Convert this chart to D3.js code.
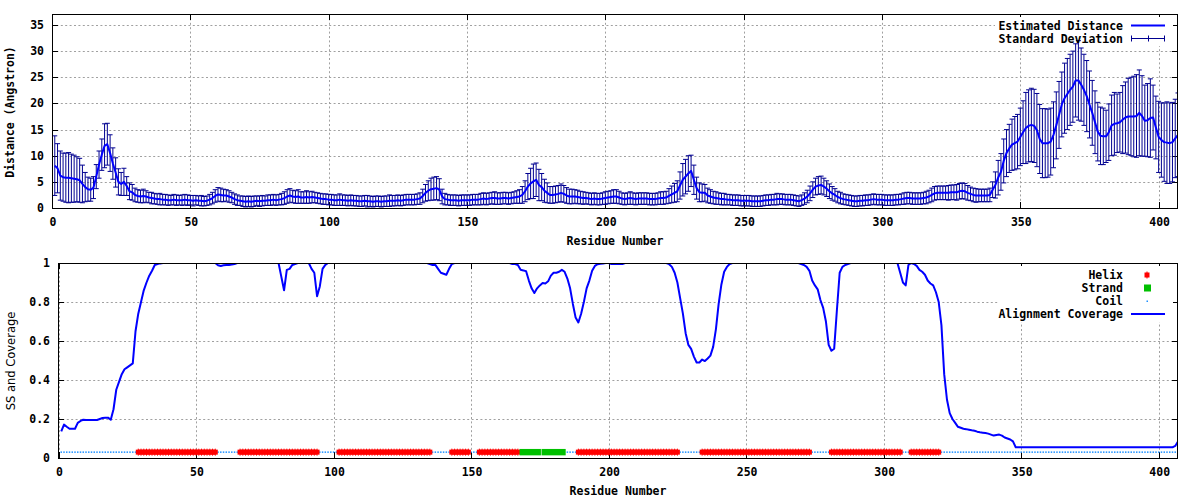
<!DOCTYPE html>
<html><head><meta charset="utf-8">
<script src="https://cdn.jsdelivr.net/npm/d3@7"></script>
<style>
body{margin:0;background:#fff}
svg text{font-family:"DejaVu Sans Mono",monospace;font-weight:bold;font-size:11.5px;fill:#000}
svg text.plain{font-family:"DejaVu Sans",sans-serif;font-weight:normal;font-size:11.5px}
</style>
</head><body>
<svg id="chart" width="1200" height="500"></svg>
<script>
// ---- data (residues 1..407) ----
const meanDistance = [
8.1,7.6,6.2,5.9,5.8,5.8,5.7,5.6,5.5,5.3,
4.6,4.0,3.6,3.5,3.9,6.0,8.3,10.2,11.9,12.2,
10.5,8.5,6.8,5.0,4.6,5.0,4.2,3.2,3.0,2.5,
2.3,2.2,2.3,2.2,2.0,1.9,1.8,1.7,1.7,1.6,
1.6,1.5,1.5,1.6,1.5,1.5,1.5,1.6,1.5,1.5,
1.4,1.5,1.4,1.4,1.3,1.4,1.6,1.9,2.3,2.6,
2.5,2.4,2.4,2.2,2.0,1.7,1.5,1.4,1.3,1.2,
1.3,1.2,1.3,1.4,1.3,1.4,1.4,1.5,1.5,1.6,
1.5,1.6,1.7,1.9,2.2,2.4,2.2,2.1,2.2,2.0,
2.0,2.1,2.0,2.1,2.0,1.9,1.8,1.7,1.7,1.6,
1.6,1.5,1.5,1.6,1.5,1.5,1.4,1.5,1.4,1.4,
1.3,1.3,1.4,1.3,1.3,1.2,1.3,1.3,1.2,1.3,
1.3,1.4,1.4,1.4,1.5,1.4,1.5,1.6,1.6,1.6,
1.6,1.7,1.8,2.3,2.9,3.3,3.6,3.7,3.8,3.5,
2.2,1.7,1.6,1.5,1.5,1.5,1.4,1.5,1.5,1.5,
1.5,1.6,1.6,1.6,1.7,1.8,1.7,1.8,1.9,1.9,
1.8,1.8,1.9,1.9,1.8,1.9,2.0,2.1,2.2,2.5,
3.2,4.1,4.7,5.1,5.4,4.4,4.0,3.3,2.9,2.5,
2.5,2.6,2.7,2.9,2.7,2.4,2.2,2.2,2.2,2.1,
2.0,1.9,1.9,1.8,1.7,1.8,1.7,1.7,1.8,1.9,
2.0,2.1,2.2,2.2,2.0,1.8,1.7,1.8,1.9,1.8,
1.7,1.8,1.8,1.8,1.8,1.7,1.7,1.7,1.8,1.9,
1.9,2.0,2.3,2.6,2.9,3.2,4.3,5.4,6.0,6.6,
7.1,5.4,3.8,3.0,2.9,2.9,2.4,2.2,2.0,1.9,
1.8,1.7,1.7,1.6,1.6,1.5,1.5,1.5,1.4,1.4,
1.4,1.4,1.3,1.3,1.3,1.3,1.4,1.5,1.5,1.6,
1.6,1.7,1.7,1.7,1.6,1.6,1.6,1.5,1.4,1.3,
1.5,1.8,2.2,2.8,3.5,4.1,4.3,4.4,4.1,3.7,
3.2,2.8,2.5,2.1,1.9,1.7,1.6,1.5,1.4,1.3,
1.3,1.4,1.4,1.5,1.5,1.6,1.7,1.6,1.6,1.6,
1.5,1.5,1.5,1.5,1.6,1.6,1.7,1.8,1.9,1.9,
1.8,1.8,1.8,1.8,1.9,2.0,2.2,2.5,2.8,2.9,
2.9,2.9,2.9,2.9,3.0,3.0,3.0,3.2,3.3,3.2,
2.9,2.7,2.5,2.4,2.4,2.4,2.4,2.4,2.5,3.5,
4.4,5.8,6.9,9.0,10.5,11.4,12.1,12.4,12.7,13.6,
14.5,15.3,15.7,15.9,15.7,14.9,13.2,12.4,12.4,12.4,
12.7,14.0,15.8,17.8,19.8,21.0,21.8,22.6,23.2,24.4,
24.4,23.6,22.6,21.4,19.8,18.2,16.4,14.6,13.8,13.7,
13.7,14.5,15.8,16.1,16.2,16.4,16.9,17.3,17.5,17.5,
17.5,17.6,18.2,17.6,16.7,16.8,17.2,17.3,15.4,13.6,
13.0,12.6,12.5,12.4,12.6,13.3,14.0];

const stdDeviation = [
5.7,4.7,4.7,4.6,4.7,4.8,4.6,4.5,4.3,4.2,
3.6,2.8,2.3,2.2,2.1,2.3,2.6,3.0,4.2,4.0,
3.5,3.0,2.8,2.5,2.2,2.6,1.8,1.6,1.5,1.3,
1.2,1.2,1.3,1.1,1.0,1.1,1.0,1.0,1.1,1.0,
1.0,1.0,0.9,1.0,1.0,0.9,1.0,1.0,1.0,0.9,
1.0,0.9,0.9,1.0,0.9,0.9,1.0,1.1,1.2,1.3,
1.3,1.2,1.1,1.1,1.0,1.0,1.0,0.9,1.0,1.0,
1.0,1.0,1.0,0.9,1.0,1.0,0.9,1.0,1.0,1.0,
1.0,1.0,1.1,1.2,1.3,1.3,1.2,1.2,1.3,1.1,
1.1,1.2,1.1,1.1,1.0,1.0,1.0,1.0,1.0,1.0,
1.0,1.0,1.0,1.1,1.0,1.0,1.0,1.0,1.0,1.0,
1.0,1.0,1.0,1.1,1.0,1.0,1.0,1.0,1.0,1.0,
1.0,1.1,1.0,1.0,1.0,1.0,1.0,1.0,1.0,1.0,
1.0,1.0,1.1,1.3,1.6,1.9,2.1,2.2,2.2,2.1,
1.4,1.1,1.0,1.0,1.0,1.0,1.0,1.0,1.0,1.0,
1.0,1.0,1.0,1.0,1.1,1.1,1.1,1.1,1.1,1.2,
1.1,1.1,1.1,1.1,1.1,1.1,1.1,1.2,1.3,1.6,
2.0,2.5,2.9,3.3,3.2,3.0,2.6,2.2,1.9,1.6,
1.6,1.6,1.6,1.7,1.6,1.5,1.4,1.4,1.3,1.3,
1.2,1.2,1.1,1.1,1.1,1.1,1.1,1.1,1.1,1.2,
1.2,1.2,1.3,1.3,1.2,1.1,1.1,1.1,1.2,1.1,
1.1,1.1,1.1,1.1,1.1,1.1,1.1,1.1,1.1,1.2,
1.2,1.2,1.4,1.6,1.8,2.0,2.6,3.1,3.3,3.4,
3.0,2.8,2.1,1.8,1.7,1.6,1.4,1.3,1.2,1.2,
1.1,1.1,1.1,1.0,1.0,1.0,1.0,1.0,1.0,1.0,
1.0,1.0,1.0,1.0,1.0,1.0,1.0,1.0,1.0,1.0,
1.0,1.1,1.0,1.0,1.0,1.0,1.0,1.0,1.0,1.0,
1.0,1.1,1.2,1.4,1.5,1.6,1.7,1.7,1.6,1.5,
1.4,1.3,1.2,1.1,1.1,1.0,1.0,1.0,1.0,1.0,
1.0,1.0,1.0,1.0,1.0,1.0,1.0,1.0,1.0,1.0,
1.0,1.0,1.0,1.0,1.0,1.0,1.0,1.1,1.1,1.1,
1.1,1.1,1.1,1.1,1.1,1.2,1.2,1.3,1.3,1.3,
1.3,1.3,1.3,1.4,1.4,1.4,1.5,1.5,1.5,1.5,
1.4,1.3,1.3,1.3,1.2,1.2,1.2,1.2,1.3,1.5,
2.5,3.3,3.5,4.2,4.5,4.6,4.9,5.1,5.2,5.5,
6.0,6.8,6.9,7.0,7.0,7.0,6.6,6.6,6.6,6.5,
6.4,6.3,6.4,6.4,6.2,6.7,6.8,6.8,6.8,7.0,
7.6,7.0,6.8,6.8,6.4,6.2,6.0,5.6,5.5,5.4,
5.0,5.4,5.8,6.0,5.6,5.7,6.5,6.8,7.3,7.5,
7.7,7.9,8.2,7.7,6.8,7.0,7.5,6.2,6.0,6.8,
7.1,7.5,7.8,7.7,7.6,7.5,8.0];

const alignmentCoverage = [
0.136,0.171,0.16,0.15,0.15,0.15,0.18,0.19,0.196,0.195,
0.195,0.195,0.195,0.195,0.2,0.205,0.207,0.207,0.196,0.25,
0.35,0.39,0.43,0.455,0.465,0.475,0.485,0.65,0.74,0.8,
0.86,0.9,0.935,0.96,0.99,0.995,0.998,1,1,1,
1,1,1,1,1,1,1,1,1,1,
1,1,1,1,1,1,1,0.988,0.985,0.988,
0.99,0.99,0.992,0.995,1,1,1,1,1,1,
1,1,1,1,1,1,1,1,1,1,
0.93,0.86,0.965,0.97,0.99,0.995,1,1,1,1,
1,0.97,0.95,0.83,0.88,0.97,0.99,1,1,1,
1,1,1,1,1,1,1,1,1,1,
1,1,1,1,1,1,1,1,1,1,
1,1,1,1,1,1,1,1,1,1,
1,1,1,1,0.995,0.99,0.99,0.97,0.95,0.945,
0.94,0.97,0.995,1,1,1,1,1,1,1,
1,1,1,1,1,1,1,1,1,1,
1,1,1,1,0.995,0.995,0.99,0.965,0.962,0.958,
0.91,0.87,0.846,0.87,0.885,0.897,0.895,0.906,0.935,0.95,
0.95,0.955,0.965,0.955,0.92,0.87,0.79,0.72,0.695,0.74,
0.8,0.87,0.91,0.96,0.985,0.994,0.996,0.998,1,1,
0.995,0.995,0.995,0.995,0.995,1,1,1,1,1,
1,1,1,1,1,1,1,1,1,1,
1,0.994,0.98,0.95,0.9,0.82,0.74,0.64,0.58,0.56,
0.52,0.49,0.49,0.505,0.497,0.51,0.525,0.57,0.66,0.79,
0.89,0.955,0.98,0.995,1,1,1,1,1,1,
1,1,1,1,1,1,1,1,1,1,
1,1,1,1,1,1,1,1,1,0.995,
0.99,0.98,0.96,0.91,0.885,0.865,0.81,0.77,0.7,0.58,
0.55,0.56,0.76,0.95,0.98,0.99,0.995,1,1,1,
1,1,1,1,1,1,1,1,1,1,
1,1,1,1,1,0.95,0.9,0.885,0.99,1,
0.995,0.985,0.965,0.955,0.94,0.91,0.895,0.885,0.85,0.8,
0.68,0.43,0.3,0.23,0.2,0.18,0.16,0.155,0.15,0.148,
0.145,0.142,0.14,0.135,0.132,0.13,0.128,0.125,0.12,0.115,
0.118,0.12,0.115,0.105,0.1,0.095,0.085,0.055,0.055,0.055,
0.055,0.055,0.055,0.055,0.055,0.055,0.055,0.055,0.055,0.055,
0.055,0.055,0.055,0.055,0.055,0.055,0.055,0.055,0.055,0.055,
0.055,0.055,0.055,0.055,0.055,0.055,0.055,0.055,0.055,0.055,
0.055,0.055,0.055,0.055,0.055,0.055,0.055,0.055,0.055,0.055,
0.055,0.055,0.055,0.055,0.055,0.055,0.055,0.055,0.055,0.055,
0.055,0.055,0.055,0.055,0.055,0.062,0.085];

const helixSegments  = [[29,57],[66,94],[102,135],[143,149],[153,167],[189,225],[234,273],[281,306],[310,320]];
const strandSegments = [[168,175],[176,184]];
const ssLevel = 0.03;

const xTickValues = [0,50,100,150,200,250,300,350,400];
const distTickValues = [0,5,10,15,20,25,30,35];
const covTickValues = [0,0.2,0.4,0.6,0.8,1];
const covTickLabels = ["0","0.2","0.4","0.6","0.8","1"];

const topLegend = ["Estimated Distance","Standard Deviation"];
const bottomLegend = ["Helix","Strand","Coil","Alignment Coverage"];

// ---- derived records ----
const residues = meanDistance.map((d,i)=>i+1);
const distRows = residues.map((r,i)=>({r, m:meanDistance[i], s:stdDeviation[i]}));
const covRows = residues.map((r,i)=>({r, v:alignmentCoverage[i]}));
const inSeg = (segs,r)=>segs.some(([a,b])=>r>=a&&r<=b);
const ssRows = residues.map(r=>({r, t: inSeg(helixSegments,r)?"H":(inSeg(strandSegments,r)?"E":"C")}));

const svg = d3.select("#chart");
const C = {grid:"#a0a0a0", mean:"#0000ff", err:"#000090", cov:"#0000ff", helix:"#ff0000", strand:"#00c000", coil:"#1e90ff"};

function frame(g, x, y, L, T, R, B, yTicks, yLabels, clipId){
  // grid
  xTickValues.forEach(t=>{
    const px = Math.round(x(t))+0.5;
    if (px > L+1 && px < R-1)
      g.append("line").attr("x1",px).attr("x2",px).attr("y1",T).attr("y2",B)
       .attr("stroke",C.grid).attr("stroke-dasharray","2,2.4");
  });
  yTicks.forEach(t=>{
    const py = Math.round(y(t))+0.5;
    if (py > T+1 && py < B-1)
      g.append("line").attr("x1",L).attr("x2",R).attr("y1",py).attr("y2",py)
       .attr("stroke",C.grid).attr("stroke-dasharray","2,2.4");
  });
  // x ticks & labels
  xTickValues.forEach(t=>{
    const px = Math.round(x(t))+0.5;
    g.append("line").attr("x1",px).attr("x2",px).attr("y1",B).attr("y2",B-6).attr("stroke","#000");
    g.append("line").attr("x1",px).attr("x2",px).attr("y1",T).attr("y2",T+6).attr("stroke","#000");
    g.append("text").attr("x",x(t)+1).attr("y",B+17.5).attr("text-anchor","middle").text(t);
  });
  yTicks.forEach((t,i)=>{
    const py = Math.round(y(t))+0.5;
    g.append("line").attr("x1",L).attr("x2",L+6).attr("y1",py).attr("y2",py).attr("stroke","#000");
    g.append("line").attr("x1",R).attr("x2",R-6).attr("y1",py).attr("y2",py).attr("stroke","#000");
    g.append("text").attr("x",L-8).attr("y",y(t)+4).attr("text-anchor","end").text(yLabels[i]);
  });
  g.append("clipPath").attr("id",clipId).append("rect").attr("x",L).attr("y",T).attr("width",R-L).attr("height",B-T);
}

// ================= TOP CHART =================
{
  const L=52, T=14, R=1178, B=208;
  const x = d3.scaleLinear().domain([0,407]).range([L,R]);
  const y = d3.scaleLinear().domain([0,37.1]).range([B,T]);
  const g = svg.append("g");
  frame(g, x, y, L, T, R, B, distTickValues, distTickValues.map(String), "clipTop");

  // legend background
  g.append("rect").attr("x",995).attr("y",17).attr("width",178).attr("height",29).attr("fill","#fff");

  const data = g.append("g").attr("clip-path","url(#clipTop)");
  // error bars
  const eb = data.append("g").attr("stroke",C.err).attr("stroke-width",1);
  distRows.forEach(d=>{
    const px = x(d.r), y1 = y(d.m - d.s), y2 = y(d.m + d.s);
    eb.append("line").attr("x1",px).attr("x2",px).attr("y1",y1).attr("y2",y2);
    eb.append("line").attr("x1",px-2.5).attr("x2",px+2.5).attr("y1",y1).attr("y2",y1);
    eb.append("line").attr("x1",px-2.5).attr("x2",px+2.5).attr("y1",y2).attr("y2",y2);
  });
  // mean line
  data.append("path").datum(distRows)
    .attr("d", d3.line().x(d=>x(d.r)).y(d=>y(d.m)))
    .attr("fill","none").attr("stroke",C.mean).attr("stroke-width",2).attr("stroke-linejoin","round");

  // border
  g.append("rect").attr("x",L+0.5).attr("y",T+0.5).attr("width",R-L-1).attr("height",B-T).attr("fill","none").attr("stroke","#000");

  // legend
  g.append("text").attr("x",1123).attr("y",29.5).attr("text-anchor","end").text(topLegend[0]);
  g.append("line").attr("x1",1131).attr("x2",1165).attr("y1",25.5).attr("y2",25.5).attr("stroke",C.mean).attr("stroke-width",2);
  g.append("text").attr("x",1123).attr("y",43).attr("text-anchor","end").text(topLegend[1]);
  const lg = g.append("g").attr("stroke",C.err);
  lg.append("line").attr("x1",1131).attr("x2",1165).attr("y1",38.5).attr("y2",38.5);
  [1131.5,1148.5,1164.5].forEach(px=>lg.append("line").attr("x1",px).attr("x2",px).attr("y1",35.5).attr("y2",41.5));

  // axis titles
  g.append("text").attr("x",615).attr("y",245).attr("text-anchor","middle").text("Residue Number");
  g.append("text").attr("transform","translate(14,112) rotate(-90)").attr("text-anchor","middle").text("Distance (Angstron)");
}

// ================= BOTTOM CHART =================
{
  const L=58, T=263, R=1178, B=458;
  const x = d3.scaleLinear().domain([0,407]).range([L+0.5,R]);
  const y = d3.scaleLinear().domain([0,1]).range([B,T]);
  const g = svg.append("g");
  frame(g, x, y, L, T, R, B, covTickValues, covTickLabels, "clipBot");

  // legend background
  g.append("rect").attr("x",999).attr("y",266).attr("width",174).attr("height",56).attr("fill","#fff");

  const data = g.append("g").attr("clip-path","url(#clipBot)");
  const yb = y(ssLevel);
  const step = x(1)-x(0);
  // coil dots
  data.append("g").selectAll("rect").data(ssRows.filter(d=>d.t==="C")).join("rect")
    .attr("x",d=>x(d.r)-0.75).attr("y",yb-0.75).attr("width",1.5).attr("height",1.5).attr("fill",C.coil);
  // helix markers
  const hg = data.append("g").attr("fill",C.helix);
  ssRows.filter(d=>d.t==="H").forEach(d=>{
    hg.append("rect").attr("x",x(d.r)-2.5).attr("y",yb-2.5).attr("width",5).attr("height",5);
    hg.append("rect").attr("x",x(d.r)-0.5).attr("y",yb-3.5).attr("width",1).attr("height",7);
  });
  // strands as boxes
  data.append("g").selectAll("rect").data(strandSegments).join("rect")
    .attr("x",d=>x(d[0])-step/2+0.3).attr("width",d=>x(d[1])-x(d[0])+step-0.6)
    .attr("y",yb-3.2).attr("height",6.4).attr("fill",C.strand);
  // coverage line
  data.append("path").datum(covRows)
    .attr("d", d3.line().x(d=>x(d.r)).y(d=>y(d.v)))
    .attr("fill","none").attr("stroke",C.cov).attr("stroke-width",2).attr("stroke-linejoin","round");

  g.append("rect").attr("x",L+0.5).attr("y",T+0.5).attr("width",R-L-1).attr("height",B-T).attr("fill","none").attr("stroke","#000");

  // legend
  const rows = [275,288,301,314];
  bottomLegend.forEach((t,i)=>g.append("text").attr("x",1123).attr("y",rows[i]+4).attr("text-anchor","end").text(t));
  g.append("rect").attr("x",1144.5).attr("y",rows[0]-2.5).attr("width",5).attr("height",5).attr("fill",C.helix);
  g.append("rect").attr("x",1146.5).attr("y",rows[0]-3.5).attr("width",1).attr("height",7).attr("fill",C.helix);
  g.append("rect").attr("x",1144).attr("y",rows[1]-3.5).attr("width",7).attr("height",7).attr("fill",C.strand);
  g.append("rect").attr("x",1146.5).attr("y",rows[2]-0.5).attr("width",1.5).attr("height",1.5).attr("fill",C.coil);
  g.append("line").attr("x1",1131).attr("x2",1165).attr("y1",rows[3]).attr("y2",rows[3]).attr("stroke",C.cov).attr("stroke-width",2);

  g.append("text").attr("x",618).attr("y",495).attr("text-anchor","middle").text("Residue Number");
  g.append("text").attr("class","plain").attr("transform","translate(15,361) rotate(-90)").attr("text-anchor","middle").text("SS and Coverage");
}
</script>
</body></html>
